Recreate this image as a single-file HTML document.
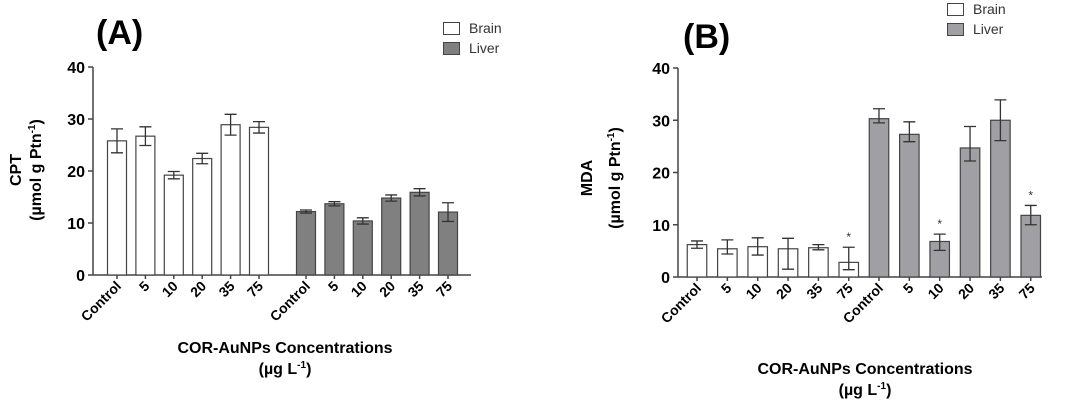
<!DOCTYPE html>
<html><head><meta charset="utf-8"><style>
html,body{margin:0;padding:0;background:#fff;}
svg{display:block;font-family:"Liberation Sans",Arial,sans-serif;}
.tk{font-weight:bold;font-size:16px;}
.xl{font-weight:bold;font-size:14px;}
.ttl{font-weight:bold;font-size:16px;}
.lg{font-size:14px;fill:#333;}
.pn{font-weight:bold;font-size:34px;}
</style></head><body>
<svg id="fig" width="1065" height="402" viewBox="0 0 1065 402">
<text class="pn" x="96" y="44">(A)</text>
<text class="pn" x="683" y="48">(B)</text>
<g>
<rect x="443.5" y="22.5" width="16" height="12" fill="#fff" stroke="#444"/>
<text class="lg" x="469" y="33">Brain</text>
<rect x="443.5" y="42.5" width="16" height="12" fill="#808080" stroke="#444"/>
<text class="lg" x="469" y="53">Liver</text>
</g>
<g>
<rect x="947.5" y="3.5" width="16" height="12" fill="#fff" stroke="#444"/>
<text class="lg" x="973" y="14">Brain</text>
<rect x="947.5" y="23.5" width="16" height="12" fill="#a0a0a4" stroke="#444"/>
<text class="lg" x="973" y="34">Liver</text>
</g>
<text class="ttl" transform="translate(21,170) rotate(-90)" text-anchor="middle">CPT</text>
<text class="ttl" transform="translate(41,170) rotate(-90)" text-anchor="middle">(µmol g Ptn<tspan dy="-6" font-size="10">-1</tspan><tspan dy="6">)</tspan></text>
<text class="ttl" transform="translate(592,178) rotate(-90)" text-anchor="middle">MDA</text>
<text class="ttl" transform="translate(620,178) rotate(-90)" text-anchor="middle">(µmol g Ptn<tspan dy="-6" font-size="10">-1</tspan><tspan dy="6">)</tspan></text>
<text class="ttl" x="285" y="353" text-anchor="middle">COR-AuNPs Concentrations</text>
<text class="ttl" x="285" y="374" text-anchor="middle">(µg L<tspan dy="-6" font-size="10">-1</tspan><tspan dy="6">)</tspan></text>
<text class="ttl" x="865" y="374" text-anchor="middle">COR-AuNPs Concentrations</text>
<text class="ttl" x="865" y="395" text-anchor="middle">(µg L<tspan dy="-6" font-size="10">-1</tspan><tspan dy="6">)</tspan></text>
</svg>
<script>
const categories = ["Control","5","10","20","35","75"];
const yTicks = [0,10,20,30,40];
const cptBrain = [25.8,26.7,19.2,22.4,28.9,28.4];
const cptBrainErr = [2.3,1.8,0.7,1.0,2.0,1.1];
const cptLiver = [12.2,13.7,10.4,14.8,15.9,12.1];
const cptLiverErr = [0.3,0.4,0.6,0.6,0.7,1.8];
const mdaBrain = [6.2,5.4,5.8,5.4,5.6,2.8];
const mdaBrainErrUp = [0.7,1.7,1.7,2.0,0.6,2.9];
const mdaBrainErrLo = [0.7,1.0,1.6,3.9,0.4,1.4];
const mdaLiver = [30.3,27.3,6.8,24.7,30.0,11.8];
const mdaLiverErrUp = [1.9,2.4,1.4,4.1,3.9,1.9];
const mdaLiverErrLo = [0.8,1.4,1.7,2.5,3.9,1.8];
const mdaBrainSig = [false,false,false,false,false,true];
const mdaLiverSig = [false,false,true,false,false,true];

const NS="http://www.w3.org/2000/svg";
const svg=document.getElementById('fig');
function mk(t,a,p){const e=document.createElementNS(NS,t);for(const k in a)e.setAttribute(k,a[k]);(p||svg).appendChild(e);return e;}

function panel(o){
  const g=mk('g',{});
  
  
  const y=v=>o.y0-(v/40)*(o.y0-o.y40);
  const ya=mk('line',{x1:o.ax,y1:y(40),x2:o.ax,y2:o.y0,stroke:'#444','stroke-width':1.5},g);
  
  
  yTicks.forEach(t=>{
    mk('line',{x1:o.ax-5,y1:y(t),x2:o.ax,y2:y(t),stroke:'#444','stroke-width':1.5},g);
    const tx=mk('text',{x:o.ax-8,y:y(t)+6,'text-anchor':'end',class:'tk'},g);
    tx.textContent=t;
    
    
  });
  const xa=mk('line',{x1:o.ax,y1:o.y0,x2:o.xEnd,y2:o.y0,stroke:'#444','stroke-width':1.5},g);
  
  
  o.groups.forEach((gr,gi)=>{
    gr.vals.forEach((v,i)=>{
      const cx=gr.x0+i*o.step;
      const r=mk('rect',{x:cx-o.bw/2,y:y(v),width:o.bw,height:o.y0-y(v),fill:gr.fill,stroke:'#444','stroke-width':1.2},g);
      
      
      const up=gr.up[i], lo=gr.lo[i];
      const yt=y(v+up), yb=y(v-lo);
      const eb=mk('path',{d:`M${cx},${yt}V${yb}M${cx-6},${yt}H${cx+6}M${cx-6},${yb}H${cx+6}`,stroke:'#333','stroke-width':1.3,fill:'none'},g);
      
      
      if(gr.sig&&gr.sig[i]){
        const s=mk('text',{x:cx,y:yt-6,'text-anchor':'middle','font-size':'12',fill:'#333'},g);
        s.textContent='*';
        
        
      }
      mk('line',{x1:cx,y1:o.y0,x2:cx,y2:o.y0+4,stroke:'#444','stroke-width':1.5},g);
      const lx=cx+5, ly=o.y0+12;
      const t=mk('text',{x:lx,y:ly,'text-anchor':'end',class:'xl',transform:`rotate(-45 ${lx} ${ly})`},g);
      t.textContent=categories[i];
      
      
    });
  });
}
panel({name:'chart-a-cpt',ax:93,y0:275,y40:67,xEnd:471,step:28.4,bw:19,groups:[
 {key:'brain',x0:117,vals:cptBrain,up:cptBrainErr,lo:cptBrainErr,fill:'#fff'},
 {key:'liver',x0:306,vals:cptLiver,up:cptLiverErr,lo:cptLiverErr,fill:'#808080'}]});
panel({name:'chart-b-mda',ax:678,y0:277,y40:68,xEnd:1042,step:30.35,bw:19.5,groups:[
 {key:'brain',x0:697,vals:mdaBrain,up:mdaBrainErrUp,lo:mdaBrainErrLo,fill:'#fff',sig:mdaBrainSig},
 {key:'liver',x0:879,vals:mdaLiver,up:mdaLiverErrUp,lo:mdaLiverErrLo,fill:'#a0a0a4',sig:mdaLiverSig}]});
</script>
</body></html>
